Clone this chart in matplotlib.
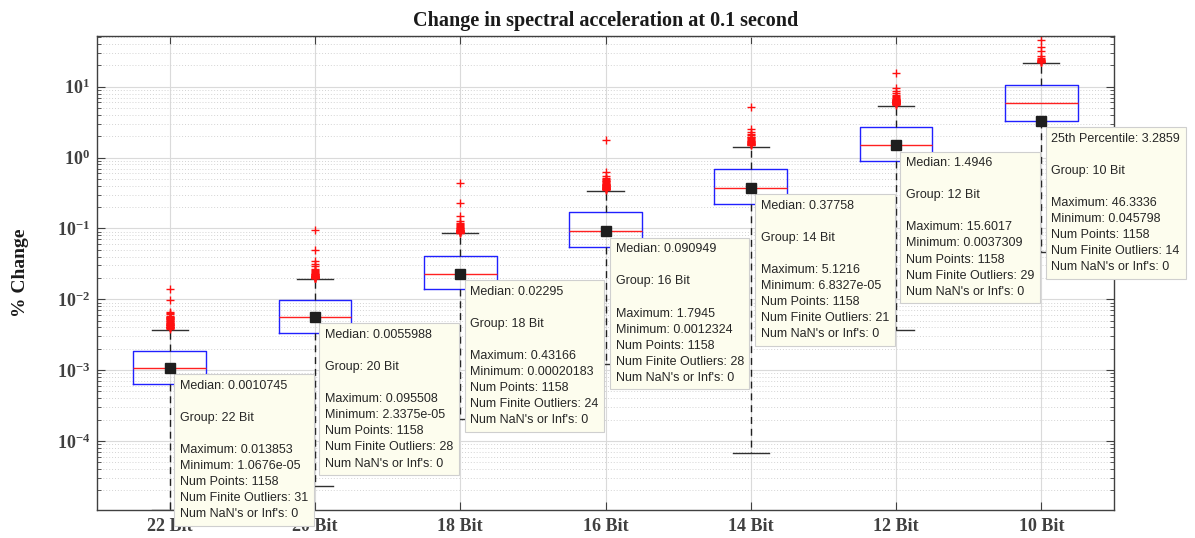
import matplotlib.pyplot as plt
from matplotlib.ticker import LogLocator, LogFormatterMathtext, NullFormatter

plt.rcParams['mathtext.fontset'] = 'custom'
plt.rcParams['mathtext.rm'] = 'Liberation Serif:bold'
plt.rcParams['mathtext.bf'] = 'Liberation Serif:bold'
plt.rcParams['mathtext.it'] = 'Liberation Serif:bold:italic'

groups = ['22 Bit', '20 Bit', '18 Bit', '16 Bit', '14 Bit', '12 Bit', '10 Bit']
q1 = [0.000645, 0.00339, 0.0139, 0.055, 0.222, 0.893, 3.2859]
med = [0.0010745, 0.0055988, 0.02295, 0.090949, 0.37758, 1.4946, 5.95]
q3 = [0.00187, 0.0097, 0.041, 0.168, 0.695, 2.72, 10.6]
whis_lo = [1.0676e-05, 2.3375e-05, 0.00020183, 0.0012324, 6.8327e-05, 0.0037309, 0.045798]
whis_hi = [0.0037, 0.0196, 0.085, 0.34, 1.42, 5.27, 21.8]
maxima = [0.013853, 0.095508, 0.43166, 1.7945, 5.1216, 15.6017, 46.3336]
n_points = [1158, 1158, 1158, 1158, 1158, 1158, 1158]

outliers = [
    [0.013853, 0.0097, 0.0066, 0.0063, 0.0061, 0.0059, 0.0057, 0.0056, 0.0055, 0.0054,
     0.0053, 0.0052, 0.0051, 0.0050, 0.0049, 0.0048, 0.0047, 0.0046, 0.0045, 0.0045,
     0.0044, 0.0043, 0.0043, 0.0042, 0.0041, 0.0041, 0.0040, 0.0040, 0.0039, 0.0039, 0.0038],
    [0.095508, 0.0493, 0.0349, 0.0313, 0.0295, 0.0270, 0.0255, 0.0248, 0.0242, 0.0236,
     0.0231, 0.0227, 0.0224, 0.0221, 0.0218, 0.0216, 0.0214, 0.0212, 0.0210, 0.0208,
     0.0207, 0.0205, 0.0204, 0.0202, 0.0201, 0.0200, 0.0199, 0.0198],
    [0.43166, 0.225, 0.151, 0.128, 0.121, 0.116, 0.112, 0.108, 0.105, 0.102,
     0.100, 0.098, 0.096, 0.095, 0.094, 0.093, 0.092, 0.091, 0.090, 0.089,
     0.0885, 0.088, 0.0875, 0.087],
    [1.7945, 0.616, 0.55, 0.52, 0.50, 0.48, 0.47, 0.46, 0.45, 0.44,
     0.43, 0.42, 0.415, 0.41, 0.405, 0.40, 0.395, 0.39, 0.385, 0.38,
     0.375, 0.37, 0.367, 0.364, 0.361, 0.358, 0.355, 0.352],
    [5.1216, 2.55, 2.3, 2.15, 2.05, 1.98, 1.92, 1.86, 1.81, 1.77,
     1.73, 1.70, 1.67, 1.64, 1.61, 1.59, 1.57, 1.55, 1.53, 1.51, 1.49],
    [15.6017, 9.6, 8.8, 8.1, 7.6, 7.3, 7.1, 6.9, 6.8, 6.7,
     6.6, 6.5, 6.4, 6.35, 6.3, 6.25, 6.2, 6.15, 6.1, 6.05,
     6.0, 5.95, 5.9, 5.85, 5.8, 5.75, 5.7, 5.65, 5.6],
    [46.3336, 35.9, 31.5, 27.4, 25.4, 24.6, 24.0, 23.5, 23.1, 22.8, 22.5, 22.3, 22.1, 22.0],
]

# which statistic each data tip points at
tip_field = ['Median', 'Median', 'Median', 'Median', 'Median', 'Median', '25th Percentile']
tip_value = [0.0010745, 0.0055988, 0.02295, 0.090949, 0.37758, 1.4946, 3.2859]


def fmt(v):
    return f'{v:.6g}' if v >= 10 else f'{v:.5g}'


stats = []
for i, g in enumerate(groups):
    stats.append(dict(label=g, med=med[i], q1=q1[i], q3=q3[i],
                      whislo=whis_lo[i], whishi=whis_hi[i], fliers=outliers[i]))

pos = list(range(1, len(groups) + 1))

fig, ax = plt.subplots(figsize=(11.95, 5.38), dpi=100)
fig.subplots_adjust(left=0.0812, right=0.9322, top=0.9331, bottom=0.052)

ax.bxp(stats, positions=pos, widths=0.5, showfliers=True,
       boxprops=dict(color='#2020ff', lw=1),
       medianprops=dict(color='#ff2020', lw=1),
       whiskerprops=dict(color='#202020', lw=1, ls=(0, (5, 3.5))),
       capprops=dict(color='#303030', lw=1),
       flierprops=dict(marker='+', markeredgecolor='#ff1010', markersize=6,
                       markeredgewidth=1, linestyle='none'))

ax.set_yscale('log')
ax.set_ylim(1.06e-5, 52)
ax.set_xlim(0.5, 7.5)

ax.yaxis.set_major_locator(LogLocator(base=10, numticks=20))
ax.yaxis.set_minor_locator(LogLocator(base=10, subs=range(2, 10), numticks=20))
ax.yaxis.set_major_formatter(LogFormatterMathtext())
ax.yaxis.set_minor_formatter(NullFormatter())

ax.set_xticks(pos, groups)
for lab in ax.get_xticklabels() + ax.get_yticklabels():
    lab.set_family('Liberation Serif')
    lab.set_fontweight('bold')
    lab.set_fontsize(13)
    lab.set_color('#262626')

ax.tick_params(which='both', direction='in', top=True, right=True, colors='#404040')
ax.tick_params(which='major', length=6, width=0.8, pad=5)
ax.tick_params(which='minor', length=3, width=0.6)
ax.tick_params(axis='x', pad=6)

ax.grid(True, which='major', color='#dadada', lw=0.8)
ax.grid(True, which='minor', axis='y', color='#d4d4d4', ls=(0, (1, 2)), lw=0.7)
ax.set_axisbelow(True)
for s in ax.spines.values():
    s.set_color('#404040')
    s.set_linewidth(1)

ax.set_title('Change in spectral acceleration at 0.1 second', family='Liberation Serif',
             fontweight='bold', fontsize=14.5, color='#1a1a1a', pad=7)
ax.set_ylabel('% Change', family='Liberation Serif', fontweight='bold', fontsize=14,
              color='#1a1a1a', labelpad=20)

# data tips
for i, g in enumerate(groups):
    txt = (f'{tip_field[i]}: {fmt(tip_value[i])}\n\n'
           f'Group: {g}\n\n'
           f'Maximum: {fmt(maxima[i])}\n'
           f'Minimum: {fmt(whis_lo[i])}\n'
           f'Num Points: {n_points[i]}\n'
           f'Num Finite Outliers: {len(outliers[i])}\n'
           f"Num NaN's or Inf's: 0")
    ax.annotate(txt, xy=(pos[i], tip_value[i]), xytext=(10, -12), textcoords='offset pixels',
                ha='left', va='top', fontsize=9, family='Liberation Sans', color='#262626',
                linespacing=1.45, annotation_clip=False, zorder=5,
                bbox=dict(boxstyle='square,pad=0.45', fc='#fdfdee', ec='#cfcfcf', lw=0.8))
    ax.plot(pos[i], tip_value[i], 's', color='#1e1e1e', markersize=7, zorder=6, clip_on=False)

fig.savefig('out.png', dpi=100)
